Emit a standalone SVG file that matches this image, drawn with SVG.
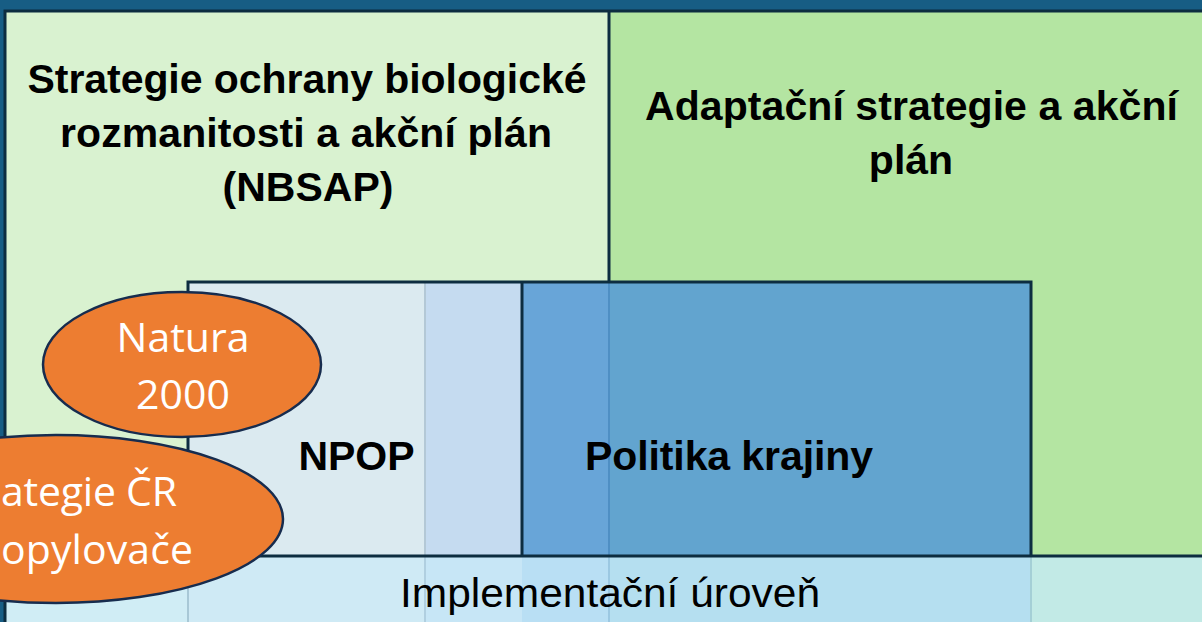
<svg xmlns="http://www.w3.org/2000/svg" width="1202" height="622" viewBox="0 0 1202 622">
<style>
.hdr{font-family:"Liberation Sans",Arial,sans-serif;font-weight:bold;font-size:41px;fill:#000;text-anchor:middle}
.impl{font-family:"Liberation Sans",Arial,sans-serif;font-size:40px;fill:#000;text-anchor:middle}
.ov{font-family:"Open Sans","Liberation Sans",sans-serif;font-size:41px;fill:#fff}
.ell{fill:#ed7d31;stroke:#172c4e;stroke-width:2.5}
.bd{stroke:#0d2d40;stroke-width:3;fill:none}
.faint{stroke-width:2;fill:none}
</style>
<rect x="0" y="0" width="1202" height="622" fill="#175d84"/>

<g id="nbsap">
<rect x="5" y="11" width="604" height="620" fill="#d9f2d0"/>
<text class="hdr" x="307" y="93" textLength="559">Strategie ochrany biologické</text>
<text class="hdr" x="306" y="147" textLength="492">rozmanitosti a akční plán</text>
<text class="hdr" x="308" y="201">(NBSAP)</text>
</g>

<g id="adaptacni">
<rect x="609" y="11" width="600" height="545" fill="#b4e5a2"/>
<text class="hdr" x="911.5" y="120" textLength="533">Adaptační strategie a akční</text>
<text class="hdr" x="911" y="174">plán</text>
</g>

<g id="implementacni">
<rect x="5" y="556" width="183" height="70" fill="#d0edf5"/>
<rect x="188" y="556" width="237" height="70" fill="#cfeaf5"/>
<rect x="425" y="556" width="97" height="70" fill="#c7e6f6"/>
<rect x="522" y="556" width="87" height="70" fill="#b9dff4"/>
<rect x="609" y="556" width="422" height="70" fill="#b5dff0"/>
<rect x="1031" y="556" width="175" height="70" fill="#c2eae6"/>
<line x1="188" y1="556" x2="188" y2="622" class="faint" stroke="#a8c8d6"/>
<line x1="425" y1="556" x2="425" y2="622" class="faint" stroke="#b0cfe0"/>
<line x1="609" y1="556" x2="609" y2="622" class="faint" stroke="#9cc8e2"/>
<line x1="1031" y1="556" x2="1031" y2="622" class="faint" stroke="#a4cfd6"/>
<text class="impl" x="610" y="607" textLength="420" lengthAdjust="spacingAndGlyphs">Implementační úroveň</text>
</g>

<g id="npop">
<rect x="188" y="282" width="237" height="274" fill="#dbeaf0"/>
<rect x="425" y="282" width="97" height="274" fill="#c5dbf0"/>
<line x1="425" y1="283" x2="425" y2="556" class="faint" stroke="#b3c8d6"/>
<text class="hdr" x="356.5" y="470">NPOP</text>
</g>

<g id="politika">
<rect x="522" y="282" width="87" height="274" fill="#68a5d8"/>
<rect x="609" y="282" width="422" height="274" fill="#62a4cf"/>
<line x1="609" y1="283" x2="609" y2="556" class="faint" stroke="#4f8fc4"/>
<text class="hdr" x="729" y="470" textLength="288">Politika krajiny</text>
</g>

<g id="connectors">
<rect x="5" y="11" width="1210" height="640" class="bd"/>
<line x1="609" y1="11" x2="609" y2="282" class="bd"/>
<line x1="0" y1="556" x2="1202" y2="556" class="bd"/>
<path d="M188 556 V282 H1031 V556" class="bd"/>
<line x1="522" y1="282" x2="522" y2="556" class="bd"/>
</g>

<g id="natura">
<ellipse class="ell" cx="182" cy="364.5" rx="139" ry="72.5"/>
<text class="ov" x="183" y="352" text-anchor="middle">Natura</text>
<text class="ov" x="183" y="409" text-anchor="middle">2000</text>
</g>

<g id="opylovace">
<ellipse class="ell" cx="56" cy="519" rx="227" ry="84"/>
<text class="ov" x="1" y="506" textLength="176">ategie ČR</text>
<text class="ov" x="1" y="564" textLength="192">opylovače</text>
</g>
</svg>
